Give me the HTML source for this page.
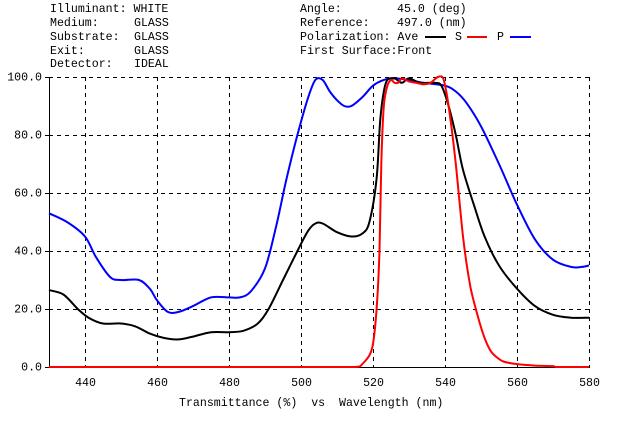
<!DOCTYPE html>
<html><head><meta charset="utf-8"><style>
body{margin:0;background:#fff;width:622px;height:417px;overflow:hidden}
svg text{font-family:"Liberation Mono",monospace;font-size:11.6px;fill:#000;white-space:pre}
</style></head><body>
<svg id="s" width="622" height="417" xmlns="http://www.w3.org/2000/svg">
<g dominant-baseline="middle">
<text x="50" y="9">Illuminant: WHITE</text>
<text x="50" y="23">Medium:</text><text x="134" y="23">GLASS</text>
<text x="50" y="37">Substrate:</text><text x="134" y="37">GLASS</text>
<text x="50" y="51">Exit:</text><text x="134" y="51">GLASS</text>
<text x="50" y="64">Detector:</text><text x="134" y="64">IDEAL</text>
<text x="300" y="9">Angle:</text><text x="397" y="9">45.0 (deg)</text>
<text x="300" y="23">Reference:</text><text x="397" y="23">497.0 (nm)</text>
<text x="300" y="37">Polarization: Ave</text><text x="455" y="37">S</text><text x="497" y="37">P</text>
<text x="300" y="51">First Surface:Front</text>
<text x="179" y="403">Transmittance (%)  vs  Wavelength (nm)</text>
</g>
<line x1="425" y1="37" x2="446" y2="37" stroke="#000" stroke-width="2"/>
<line x1="467" y1="37" x2="487" y2="37" stroke="#f00" stroke-width="2"/>
<line x1="510" y1="37" x2="531" y2="37" stroke="#00f" stroke-width="2"/>
<g id="grid" stroke="#000" stroke-width="1"></g>
<g id="lab" dominant-baseline="middle"></g>
<g id="curves" fill="none" stroke-width="2"></g>
</svg>
<script>
var X=function(l){return 49+(l-430)*3.6},Y=function(t){return 367-2.9*t};
var g=document.getElementById('grid'),lab=document.getElementById('lab'),cv=document.getElementById('curves');
var ns='http://www.w3.org/2000/svg';
function el(p,n,a,t){var e=document.createElementNS(ns,n);for(var k in a)e.setAttribute(k,a[k]);if(t)e.textContent=t;p.appendChild(e);return e}
for(var i=0;i<=5;i++){var y=Y(i*20)+0.5;
 if(i>0)el(g,'line',{x1:49,x2:590,y1:y,y2:y,'stroke-dasharray':'4,4'});
 el(lab,'text',{x:42,y:y,'text-anchor':'end'},(i*20).toFixed(1));
 el(g,'line',{x1:45,x2:49,y1:y,y2:y});}
for(var l=440;l<=580;l+=20){var x=Math.round(X(l))+0.5;
 el(g,'line',{x1:x,x2:x,y1:77,y2:367,'stroke-dasharray':'4,4'});
 el(lab,'text',{x:x,y:383,'text-anchor':'middle'},l);}
el(g,'line',{x1:49.5,x2:49.5,y1:77,y2:367.5});
el(g,'line',{x1:49,x2:590,y1:367.5,y2:367.5});
var P=[[430,53],[435,50],[440,45],[443,38],[447,31],[450,30],[455,30],[458,27],[460,23],[463,19],[466,19],[470,21],[475,24],[480,24],[483,24],[486,26],[490,34],[493,48],[496,65],[499,80],[502,93],[504,99],[506,99],[508,95],[510,92],[512,90],[514,90],[517,93],[520,97],[523,99],[526,99.5],[530,99],[534,98],[540,97],[543,95],[546,91],[550,83],[555,70],[560,56],[565,44],[570,37],[575,34.5],[578,34.5],[580,35]];
var A=[[430,26.5],[434,25],[438,20],[441,17],[445,15],[450,15],[454,14],[458,11.5],[462,10],[466,9.5],[470,10.5],[475,12],[480,12],[484,12.5],[488,15],[491,20],[495,30],[499,40],[502,47],[504,49.5],[506,49.5],[510,46.5],[514,45],[517,46],[519,50],[521,65],[522,85],[523,95],[524,99],[526,99.5],[528,98],[530,99.5],[533,98],[537,98],[539,97],[541,90],[543,80],[545,68],[548,56],[551,45],[555,35],[560,27],[565,21],[570,18],[575,17],[580,17]];
var S=[[430,0],[515,0],[517,1],[519,4],[520,8],[521,20],[521.8,40],[522.3,70],[523,90],[524,97],[525,99],[526,98],[527,98],[528,99.5],[530,98.5],[532,98],[534,97.5],[536,98],[538,100],[539.5,99.5],[541,90],[543,70],[545,45],[547,28],[549,18],[551,10],[553,5],[556,2],[560,1],[565,0.5],[570,0.3],[571,0],[580,0]];
function pl(d,c,t){
 var p=d.map(function(q){return [X(q[0]),Y(q[1])]});
 var s='M'+p[0][0].toFixed(1)+','+p[0][1].toFixed(1);
 for(var i=0;i<p.length-1;i++){
  var p0=p[Math.max(0,i-1)],p1=p[i],p2=p[i+1],p3=p[Math.min(p.length-1,i+2)];
  var c1x=p1[0]+(p2[0]-p0[0])*t,c1y=p1[1]+(p2[1]-p0[1])*t;
  var c2x=p2[0]-(p3[0]-p1[0])*t,c2y=p2[1]-(p3[1]-p1[1])*t;
  c1x=Math.max(p1[0],Math.min(p2[0],c1x));c2x=Math.max(p1[0],Math.min(p2[0],c2x));
  c1y=Math.min(367,c1y);c2y=Math.min(367,c2y);
  s+=' C'+[c1x,c1y,c2x,c2y,p2[0],p2[1]].map(function(v){return v.toFixed(1)}).join(',');
 }
 el(cv,'path',{stroke:c,'stroke-linejoin':'round',d:s});
}
pl(P,'#00f',0.16);pl(A,'#000',0.16);pl(S,'#f00',0.12);
</script>
</body></html>
